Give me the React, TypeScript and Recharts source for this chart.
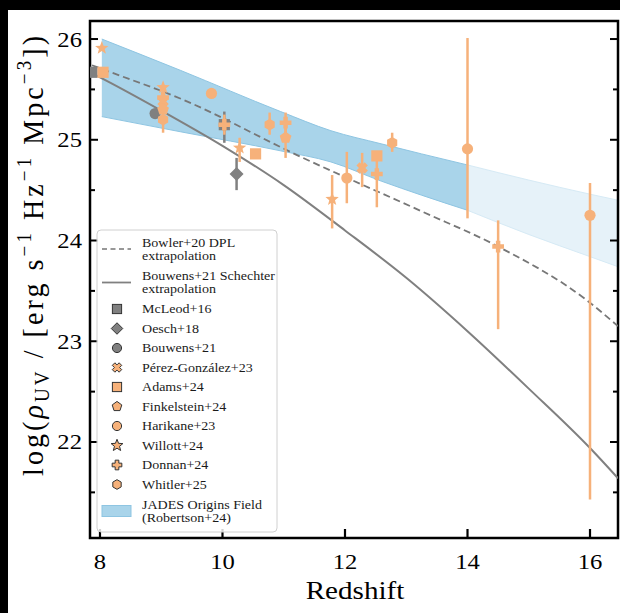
import React from 'react';
import {
  ComposedChart,
  Line,
  Area,
  Scatter,
  ErrorBar,
  XAxis,
  YAxis,
  ReferenceArea,
} from 'recharts';

const SERIF = "'Liberation Serif', 'Times New Roman', 'DejaVu Serif', serif";

const ORANGE     = '#f6b17a';
const GRAY       = '#808080';
const BAND       = '#a9d4ea';
const BAND_EDGE  = '#8ec5e2';
const BAND_LIGHT = '#e6f2f9';

const W = 620;
const H = 613;

const X_DOMAIN: [number, number] = [7.837, 16.457];
const Y_DOMAIN: [number, number] = [21.047, 26.179];
const X_TICKS = [8, 10, 12, 14, 16];
const Y_TICKS = [21.5, 22, 22.5, 23, 23.5, 24, 24.5, 25, 25.5, 26];

// Bowler+20 DPL extrapolation (dashed)
const DPL_Z   = [7.87, 8, 9.31, 11.28, 13.25, 14.5, 15.92, 16.457];
const DPL_RHO = [25.74, 25.71, 25.41, 24.83, 24.29, 23.94, 23.42, 23.15];

// Bouwens+21 Schechter extrapolation (solid)
const SCH_Z   = [7.87, 8, 9, 10, 11, 12, 13, 14, 15, 16, 16.457];
const SCH_RHO = [25.66, 25.62, 25.29, 24.94, 24.55, 24.1, 23.63, 23.1, 22.53, 21.94, 21.64];

// JADES Origins Field (Robertson+24), measured range
const JOF_Z  = [8.03, 9.31, 10.95, 11.77, 12.59, 13.25, 14];
const JOF_LO = [25.23, 25.08, 24.89, 24.78, 24.59, 24.45, 24.3];
const JOF_HI = [26.0, 25.69, 25.28, 25.09, 24.96, 24.86, 24.75];
// ...and its extension past z = 14 (lighter)
const JOF_EXT_Z  = [14, 15, 16, 16.457];
const JOF_EXT_LO = [24.3, 24.06, 23.84, 23.74];
const JOF_EXT_HI = [24.75, 24.6, 24.46, 24.4];

// Data points: redshift, log rho, lower / upper error
const MCLEOD_Z = [7.87, 10.03];
const MCLEOD_RHO = [25.67, 25.15];
const MCLEOD_LO = [0, 0.18];
const MCLEOD_HI = [0, 0.13];

const OESCH_Z = [10.23];
const OESCH_RHO = [24.66];
const OESCH_LO = [0.16];
const OESCH_HI = [0.16];

const BOUWENS_Z = [8.9];
const BOUWENS_RHO = [25.26];
const BOUWENS_LO = [0];
const BOUWENS_HI = [0];

const PEREZ_Z = [9.03, 12.28];
const PEREZ_RHO = [25.38, 24.72];
const PEREZ_LO = [0.1, 0.19];
const PEREZ_HI = [0.1, 0.15];

const ADAMS_Z = [8.05, 10.54, 12.52];
const ADAMS_RHO = [25.67, 24.86, 24.84];
const ADAMS_LO = [0, 0, 0];
const ADAMS_HI = [0, 0, 0];

const FINK_Z = [9.03, 11.03];
const FINK_RHO = [25.3, 25.02];
const FINK_LO = [0.12, 0.2];
const FINK_HI = [0.1, 0.12];

const HARIKANE_Z = [9.82, 12.03, 14.0, 16.0];
const HARIKANE_RHO = [25.46, 24.62, 24.91, 24.25];
const HARIKANE_LO = [0, 0.25, 0.69, 2.82];
const HARIKANE_HI = [0, 0.26, 1.1, 0.32];

const WILLOTT_Z = [8.03, 9.03, 10.28, 11.79];
const WILLOTT_RHO = [25.91, 25.52, 24.92, 24.41];
const WILLOTT_LO = [0, 0, 0.14, 0.29];
const WILLOTT_HI = [0, 0, 0.1, 0.24];

const DONNAN_Z = [9.03, 10.03, 11.03, 12.52, 14.5];
const DONNAN_RHO = [25.42, 25.15, 25.17, 24.66, 23.94];
const DONNAN_LO = [0.1, 0.1, 0.1, 0.33, 0.82];
const DONNAN_HI = [0.1, 0.1, 0.1, 0.14, 0.26];

const WHITLER_Z = [9.03, 10.77, 12.77];
const WHITLER_RHO = [25.2, 25.15, 24.97];
const WHITLER_LO = [0.13, 0.1, 0.09];
const WHITLER_HI = [0.1, 0.12, 0.1];

const line = (z: number[], rho: number[]) => z.map((v, i) => ({ z: v, rho: rho[i] }));
const band = (z: number[], lo: number[], hi: number[]) =>
  z.map((v, i) => ({ z: v, range: [lo[i], hi[i]] }));
const pts = (z: number[], rho: number[], lo: number[], hi: number[]) =>
  z.map((v, i) => ({ z: v, rho: rho[i], err: [lo[i], hi[i]] }));

type Kind = 'square' | 'diamond' | 'circle' | 'x' | 'pentagon' | 'star' | 'plus' | 'hexagon';

const SURVEYS: { name: string; kind: Kind; color: string; data: any[] }[] = [
  { name: 'McLeod+16',         kind: 'square',   color: GRAY,   data: pts(MCLEOD_Z, MCLEOD_RHO, MCLEOD_LO, MCLEOD_HI) },
  { name: 'Oesch+18',          kind: 'diamond',  color: GRAY,   data: pts(OESCH_Z, OESCH_RHO, OESCH_LO, OESCH_HI) },
  { name: 'Bouwens+21',        kind: 'circle',   color: GRAY,   data: pts(BOUWENS_Z, BOUWENS_RHO, BOUWENS_LO, BOUWENS_HI) },
  { name: 'Pérez-González+23', kind: 'x',        color: ORANGE, data: pts(PEREZ_Z, PEREZ_RHO, PEREZ_LO, PEREZ_HI) },
  { name: 'Adams+24',          kind: 'square',   color: ORANGE, data: pts(ADAMS_Z, ADAMS_RHO, ADAMS_LO, ADAMS_HI) },
  { name: 'Finkelstein+24',    kind: 'pentagon', color: ORANGE, data: pts(FINK_Z, FINK_RHO, FINK_LO, FINK_HI) },
  { name: 'Harikane+23',       kind: 'circle',   color: ORANGE, data: pts(HARIKANE_Z, HARIKANE_RHO, HARIKANE_LO, HARIKANE_HI) },
  { name: 'Willott+24',        kind: 'star',     color: ORANGE, data: pts(WILLOTT_Z, WILLOTT_RHO, WILLOTT_LO, WILLOTT_HI) },
  { name: 'Donnan+24',         kind: 'plus',     color: ORANGE, data: pts(DONNAN_Z, DONNAN_RHO, DONNAN_LO, DONNAN_HI) },
  { name: 'Whitler+25',        kind: 'hexagon',  color: ORANGE, data: pts(WHITLER_Z, WHITLER_RHO, WHITLER_LO, WHITLER_HI) },
];

const LINE_LABELS = [
  ['Bowler+20 DPL', 'extrapolation'],
  ['Bouwens+21 Schechter', 'extrapolation'],
];
const BAND_LABEL = ['JADES Origins Field', '(Robertson+24)'];

function ngon(n: number, r: number, startDeg: number, cx: number, cy: number) {
  const out: string[] = [];
  for (let i = 0; i < n; i++) {
    const a = ((startDeg + (360 / n) * i) * Math.PI) / 180;
    out.push(`${cx + r * Math.cos(a)},${cy + r * Math.sin(a)}`);
  }
  return out.join(' ');
}

function Marker({ kind, cx, cy, s, fill, stroke, sw }: any) {
  const common = { fill, stroke: stroke ?? 'none', strokeWidth: sw ?? 0 };
  if (kind === 'circle') return <circle cx={cx} cy={cy} r={s} {...common} />;
  if (kind === 'square') return <rect x={cx - s} y={cy - s} width={2 * s} height={2 * s} {...common} />;
  if (kind === 'diamond') return <polygon points={ngon(4, s * 1.25, -90, cx, cy)} {...common} />;
  if (kind === 'pentagon') return <polygon points={ngon(5, s * 1.1, -90, cx, cy)} {...common} />;
  if (kind === 'hexagon') return <polygon points={ngon(6, s * 1.05, -90, cx, cy)} {...common} />;
  if (kind === 'star') {
    const p: string[] = [];
    for (let i = 0; i < 10; i++) {
      const r = i % 2 === 0 ? s * 1.35 : s * 0.58;
      const a = ((-90 + 36 * i) * Math.PI) / 180;
      p.push(`${cx + r * Math.cos(a)},${cy + r * Math.sin(a)}`);
    }
    return <polygon points={p.join(' ')} {...common} />;
  }
  // fat plus / fat x
  const a = s * 0.4;
  const L = s * 1.05;
  const base = [
    [-a, -L], [a, -L], [a, -a], [L, -a], [L, a], [a, a],
    [a, L], [-a, L], [-a, a], [-L, a], [-L, -a], [-a, -a],
  ];
  const rot = kind === 'x' ? Math.PI / 4 : 0;
  const p = base
    .map(([x, y]) => {
      const rx = x * Math.cos(rot) - y * Math.sin(rot);
      const ry = x * Math.sin(rot) + y * Math.cos(rot);
      return `${cx + rx},${cy + ry}`;
    })
    .join(' ');
  return <polygon points={p} {...common} />;
}

function LeftTick({ x, y, payload }: any) {
  const v = payload.value;
  const major = Number.isInteger(v);
  return (
    <g>
      <line x1={x} x2={x + (major ? 8 : 5)} y1={y} y2={y} stroke="#000" strokeWidth={2} />
      {major && (
        <text
          transform={`translate(${x - 8},${y + 7.5}) scale(1.12,1)`}
          textAnchor="end"
          fontFamily={SERIF}
          fontSize={22}
          fill="#000"
        >
          {v}
        </text>
      )}
    </g>
  );
}

function RightTick({ x, y, payload }: any) {
  const major = Number.isInteger(payload.value);
  return <line x1={x - (major ? 8 : 5)} x2={x} y1={y} y2={y} stroke="#000" strokeWidth={2} />;
}

function BottomTick({ x, y, payload }: any) {
  return (
    <g>
      <line x1={x} x2={x} y1={y} y2={y - 9} stroke="#000" strokeWidth={2.2} />
      <text
        transform={`translate(${x},${y + 31}) scale(1.12,1)`}
        textAnchor="middle"
        fontFamily={SERIF}
        fontSize={22}
        fill="#000"
      >
        {payload.value}
      </text>
    </g>
  );
}

function LegendBox() {
  const rows: { lines: string[]; draw: (cy: number) => React.ReactNode }[] = [
    {
      lines: LINE_LABELS[0],
      draw: cy => <line x1={102} x2={131} y1={cy} y2={cy} stroke="#777" strokeWidth={1.6} strokeDasharray="5 3.5" />,
    },
    {
      lines: LINE_LABELS[1],
      draw: cy => <line x1={102} x2={131} y1={cy} y2={cy} stroke={GRAY} strokeWidth={1.8} />,
    },
    ...SURVEYS.map(s => ({
      lines: [s.name],
      draw: (cy: number) => <Marker kind={s.kind} cx={117} cy={cy} s={4.6} fill={s.color} stroke="#333" sw={1} />,
    })),
    {
      lines: BAND_LABEL,
      draw: cy => <rect x={102} y={cy - 5.5} width={29} height={11} fill={BAND} stroke={BAND_EDGE} strokeWidth={1} />,
    },
  ];

  let cy = 249;
  let prev = 0;
  const items = rows.map((r, i) => {
    if (i > 0) cy += (prev + r.lines.length) * 7 + 5.5;
    prev = r.lines.length;
    const c = cy;
    const off = r.lines.length === 2 ? [-6.5, 6.5] : [0];
    return (
      <g key={i}>
        {r.draw(c)}
        {r.lines.map((t, j) => (
          <text
            key={j}
            transform={`translate(142,${c + off[j] + 4.4}) scale(1.08,1)`}
            fontFamily={SERIF}
            fontSize={13}
            fill="#1a1a1a"
          >
            {t}
          </text>
        ))}
      </g>
    );
  });

  return (
    <g>
      <rect x={97} y={230} width={180} height={302} rx={4} fill="#fff" fillOpacity={0.82} stroke="#d0d0d0" strokeWidth={1} />
      {items}
    </g>
  );
}

export default function App() {
  return (
    <div style={{ position: 'absolute', left: 0, top: 0, width: W, height: H, background: '#000', overflow: 'hidden' }}>
      <div style={{ position: 'absolute', left: 8, top: 10, right: 0, bottom: 0, background: '#fff' }} />
      <div style={{ position: 'absolute', left: 0, top: 0 }}>
        <ComposedChart width={W} height={H} margin={{ top: 21, right: 0, bottom: 0, left: 0 }}>
          <XAxis
            type="number"
            dataKey="z"
            domain={X_DOMAIN}
            allowDataOverflow
            ticks={X_TICKS}
            interval={0}
            tickSize={0}
            tickMargin={0}
            axisLine={false}
            tickLine={false}
            height={75}
            tick={(p: any) => <BottomTick {...p} />}
          />
          <YAxis
            type="number"
            domain={Y_DOMAIN}
            allowDataOverflow
            ticks={Y_TICKS}
            interval={0}
            tickSize={0}
            tickMargin={0}
            axisLine={false}
            tickLine={false}
            width={90}
            tick={(p: any) => <LeftTick {...p} />}
          />
          <YAxis
            yAxisId="r"
            orientation="right"
            type="number"
            domain={Y_DOMAIN}
            allowDataOverflow
            ticks={Y_TICKS}
            interval={0}
            tickSize={0}
            tickMargin={0}
            axisLine={false}
            tickLine={false}
            width={2}
            tick={(p: any) => <RightTick {...p} />}
          />

          <Area
            data={band(JOF_EXT_Z, JOF_EXT_LO, JOF_EXT_HI)}
            dataKey="range"
            type="monotone"
            fill={BAND_LIGHT}
            fillOpacity={1}
            stroke="#d6eaf5"
            strokeWidth={1}
            dot={false}
            activeDot={false}
            isAnimationActive={false}
          />
          <Area
            data={band(JOF_Z, JOF_LO, JOF_HI)}
            dataKey="range"
            type="monotone"
            fill={BAND}
            fillOpacity={1}
            stroke={BAND_EDGE}
            strokeWidth={1}
            dot={false}
            activeDot={false}
            isAnimationActive={false}
          />

          <Line
            data={line(DPL_Z, DPL_RHO)}
            dataKey="rho"
            type="monotone"
            stroke="#777"
            strokeWidth={1.8}
            strokeDasharray="7 4"
            dot={false}
            activeDot={false}
            isAnimationActive={false}
          />
          <Line
            data={line(SCH_Z, SCH_RHO)}
            dataKey="rho"
            type="monotone"
            stroke={GRAY}
            strokeWidth={2}
            dot={false}
            activeDot={false}
            isAnimationActive={false}
          />

          {SURVEYS.map(s => (
            <Scatter
              key={s.name}
              name={s.name}
              data={s.data}
              dataKey="rho"
              isAnimationActive={false}
              shape={(p: any) => (
                <Marker kind={s.kind} cx={p.cx} cy={p.cy} s={s.kind === 'star' ? 5.2 : 5.6} fill={s.color} />
              )}
            >
              <ErrorBar dataKey="err" direction="y" width={0} stroke={s.color} strokeWidth={2.5} />
            </Scatter>
          ))}

          <ReferenceArea
            x1={X_DOMAIN[0]}
            x2={X_DOMAIN[1]}
            y1={Y_DOMAIN[0]}
            y2={Y_DOMAIN[1]}
            fill="none"
            stroke="#000"
            strokeWidth={2.5}
            ifOverflow="visible"
          />
        </ComposedChart>
      </div>

      <svg width={W} height={H} style={{ position: 'absolute', left: 0, top: 0, pointerEvents: 'none' }}>
        <LegendBox />
        <text
          transform="translate(43,256) rotate(-90) scale(1,1.05)"
          textAnchor="middle"
          fontFamily={SERIF}
          fontSize={28}
          fill="#000"
          textLength={440}
          lengthAdjust="spacing"
        >
          <tspan>log(</tspan>
          <tspan fontStyle="italic">ρ</tspan>
          <tspan fontSize={19} dy={6}>UV</tspan>
          <tspan dy={-6}> / [erg s</tspan>
          <tspan fontSize={19} dy={-11}>−1</tspan>
          <tspan dy={11}> Hz</tspan>
          <tspan fontSize={19} dy={-11}>−1</tspan>
          <tspan dy={11}> Mpc</tspan>
          <tspan fontSize={19} dy={-11}>−3</tspan>
          <tspan dy={11}>])</tspan>
        </text>
        <text
          transform="translate(355,599) scale(1.12,1)"
          textAnchor="middle"
          fontFamily={SERIF}
          fontSize={26}
          fill="#000"
        >
          Redshift
        </text>
      </svg>
    </div>
  );
}
